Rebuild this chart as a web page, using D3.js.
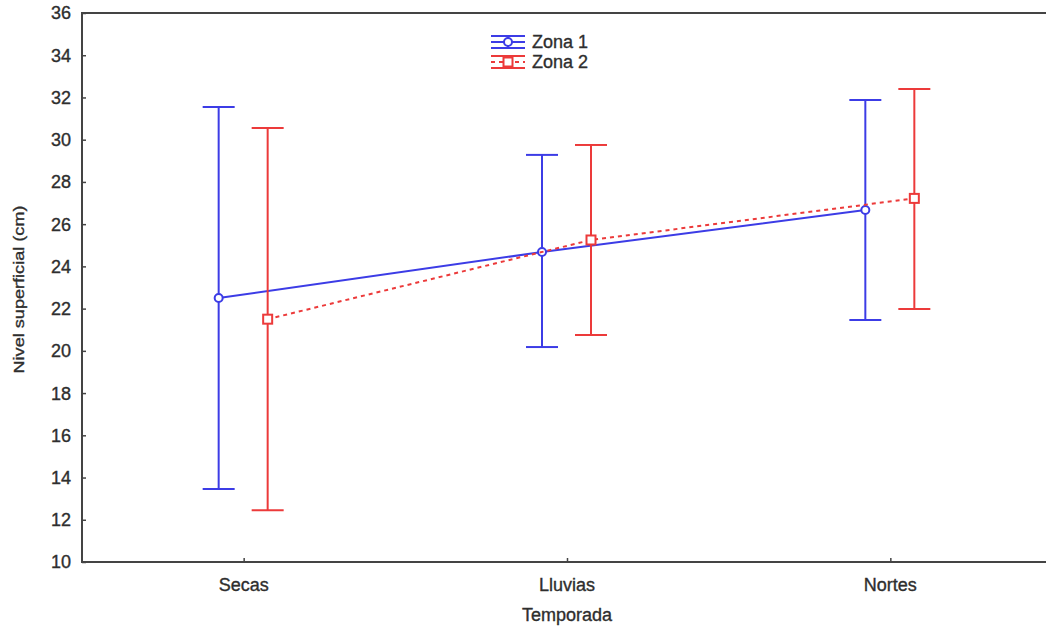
<!DOCTYPE html>
<html>
<head>
<meta charset="utf-8">
<script src="https://cdn.jsdelivr.net/npm/d3@7"></script>
<style>
  html, body { margin: 0; padding: 0; background: #fff; }
  svg { display: block; font-family: "Liberation Sans", Arial, sans-serif; }
  .lbl { fill: #2e2e2e; stroke: #2e2e2e; stroke-width: 0.35; }
</style>
</head>
<body>
<svg id="chart" width="1046" height="629"></svg>
<script>
// Seasons on the x axis
const categories = ["Secas", "Lluvias", "Nortes"];
const series = ["Zona 1", "Zona 2"];
// Mean surface level (cm) per season
const zona1Mean = [22.5, 24.68, 26.67];
const zona2Mean = [21.5, 25.25, 27.22];
// Upper / lower interval limits
const zona1Upper = [31.55, 29.28, 31.88];
const zona1Lower = [13.46, 20.18, 21.46];
const zona2Upper = [30.55, 29.75, 32.4];
const zona2Lower = [12.45, 20.75, 21.98];
const yTicks = [10, 12, 14, 16, 18, 20, 22, 24, 26, 28, 30, 32, 34, 36];

const svg = d3.select("#chart");
const m = { left: 82, top: 13, bottom: 562, right: 1052 };

const x = d3.scalePoint().domain(categories).range([m.left, m.right]).padding(0.5);
const y = d3.scaleLinear().domain([10, 36]).range([m.bottom, m.top]);
const dodge = d3.scalePoint().domain(series).range([-25, 24]);

const styles = {
  "Zona 1": { color: "#3c3ce6", dash: null, marker: "circle" },
  "Zona 2": { color: "#ec3a3a", dash: "4,4", marker: "square" }
};
const data = [
  { name: "Zona 1", mean: zona1Mean, hi: zona1Upper, lo: zona1Lower },
  { name: "Zona 2", mean: zona2Mean, hi: zona2Upper, lo: zona2Lower }
];

// Axes
const axisColor = "#444";
const yAxis = svg.append("g").attr("transform", `translate(${m.left},0)`)
  .call(d3.axisRight(y).tickValues(yTicks).tickSize(4).tickFormat(""));
yAxis.select(".domain").remove();
yAxis.selectAll("line").attr("stroke", axisColor).attr("stroke-width", 1.5);
svg.append("g").selectAll("text").data(yTicks).join("text")
  .attr("class", "lbl")
  .attr("x", 71).attr("y", d => y(d)).attr("dy", "0.36em")
  .attr("text-anchor", "end").attr("font-size", 18)
  .text(d => d);

const xAxis = svg.append("g").attr("transform", `translate(0,${m.bottom})`)
  .call(d3.axisTop(x).tickSize(4).tickFormat(""));
xAxis.select(".domain").remove();
xAxis.selectAll("line").attr("stroke", axisColor).attr("stroke-width", 1.5);
svg.append("g").selectAll("text").data(categories).join("text")
  .attr("class", "lbl")
  .attr("x", d => x(d)).attr("y", 585).attr("dy", "0.36em")
  .attr("text-anchor", "middle").attr("font-size", 18)
  .text(d => d);

// Frame lines: left, top, bottom
svg.append("path")
  .attr("d", `M1046,${m.top}H${m.left}V${m.bottom}H1046`)
  .attr("fill", "none").attr("stroke", axisColor).attr("stroke-width", 2);

// Axis titles
svg.append("text").attr("class", "lbl")
  .attr("x", x("Lluvias")).attr("y", 615).attr("dy", "0.36em")
  .attr("text-anchor", "middle").attr("font-size", 18)
  .text("Temporada");
svg.append("text").attr("class", "lbl")
  .attr("transform", `translate(24,${(m.top + m.bottom) / 2 + 2}) rotate(-90)`)
  .attr("text-anchor", "middle").attr("font-size", 15)
  .attr("textLength", 168).attr("lengthAdjust", "spacingAndGlyphs")
  .text("Nivel superficial (cm)");

// Error bars, connecting lines and markers
const capHalf = 16;
data.forEach(s => {
  const st = styles[s.name];
  const px = i => x(categories[i]) + dodge(s.name);
  const g = svg.append("g");
  categories.forEach((c, i) => {
    g.append("line").attr("x1", px(i)).attr("x2", px(i))
      .attr("y1", y(s.hi[i])).attr("y2", y(s.lo[i]))
      .attr("stroke", st.color).attr("stroke-width", 2);
    [s.hi[i], s.lo[i]].forEach(v => {
      g.append("line").attr("x1", px(i) - capHalf).attr("x2", px(i) + capHalf)
        .attr("y1", y(v)).attr("y2", y(v))
        .attr("stroke", st.color).attr("stroke-width", 2);
    });
  });
  g.append("path")
    .datum(s.mean)
    .attr("d", d3.line().x((d, i) => px(i)).y(d => y(d)))
    .attr("fill", "none").attr("stroke", st.color).attr("stroke-width", 2)
    .attr("stroke-dasharray", st.dash);
  s.mean.forEach((v, i) => drawMarker(g, st, px(i), y(v)));
});

function drawMarker(g, st, cx, cy) {
  if (st.marker === "circle") {
    g.append("circle").attr("cx", cx).attr("cy", cy).attr("r", 4)
      .attr("fill", "#fff").attr("stroke", st.color).attr("stroke-width", 2);
  } else {
    g.append("rect").attr("x", cx - 4.5).attr("y", cy - 4.5)
      .attr("width", 9).attr("height", 9)
      .attr("fill", "#fff").attr("stroke", st.color).attr("stroke-width", 2);
  }
}

// Legend
const legend = svg.append("g");
series.forEach((name, i) => {
  const st = styles[name];
  const ly = 42 + i * 20;
  const lx0 = 491, lx1 = 525, lc = (lx0 + lx1) / 2;
  const lg = legend.append("g");
  [-6, 6].forEach(dy => {
    lg.append("line").attr("x1", lx0).attr("x2", lx1)
      .attr("y1", ly + dy).attr("y2", ly + dy)
      .attr("stroke", st.color).attr("stroke-width", 2);
  });
  lg.append("line").attr("x1", lx0).attr("x2", lx1).attr("y1", ly).attr("y2", ly)
    .attr("stroke", st.color).attr("stroke-width", 2).attr("stroke-dasharray", st.dash);
  lg.append("line").attr("x1", lc).attr("x2", lc).attr("y1", ly - 6).attr("y2", ly + 6)
    .attr("stroke", st.color).attr("stroke-width", 2);
  drawMarker(lg, st, lc, ly);
  lg.append("text").attr("class", "lbl")
    .attr("x", 532).attr("y", ly).attr("dy", "0.36em")
    .attr("font-size", 18).text(name);
});
</script>
</body>
</html>
